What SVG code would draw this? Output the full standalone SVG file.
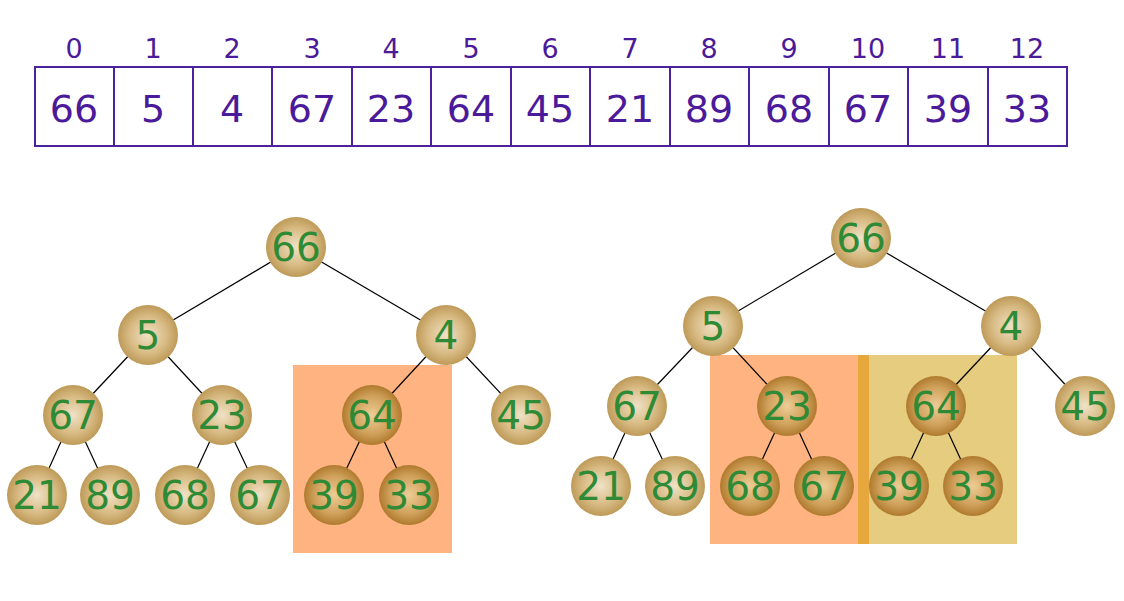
<svg xmlns="http://www.w3.org/2000/svg" width="1124" height="601" viewBox="0 0 1124 601">
<defs>
<radialGradient id="lt" cx="50%" cy="50%" r="50%">
<stop offset="0" stop-color="#EFE2C6"/>
<stop offset="0.6" stop-color="#D9BC86"/>
<stop offset="1" stop-color="#BE9A58"/>
</radialGradient>
<radialGradient id="dk" cx="50%" cy="50%" r="50%">
<stop offset="0" stop-color="#EDCD95"/>
<stop offset="0.65" stop-color="#CFA05A"/>
<stop offset="1" stop-color="#AF7A2E"/>
</radialGradient>
<style>
.cell{fill:#fff;stroke:#4B229C;stroke-width:2}
.idx{font-family:"DejaVu Sans",sans-serif;font-size:27px;fill:#4B1A9A;text-anchor:middle}
.val{font-family:"DejaVu Sans",sans-serif;font-size:38px;fill:#4B1A9A;text-anchor:middle}
.n circle.l{fill:url(#lt)}
.n circle.d{fill:url(#dk)}
.n text{font-family:"DejaVu Sans",sans-serif;font-size:39px;fill:#2E8A35;text-anchor:middle}
.e line{stroke:#000;stroke-width:1.2}
</style>
</defs>
<rect width="1124" height="601" fill="#fff"/>
<g id="array">
<rect class="cell" x="35" y="67" width="1032" height="79"/>
<g stroke="#4B229C" stroke-width="2">
<line x1="114" y1="67" x2="114" y2="146"/><line x1="193" y1="67" x2="193" y2="146"/><line x1="272" y1="67" x2="272" y2="146"/><line x1="352" y1="67" x2="352" y2="146"/><line x1="431" y1="67" x2="431" y2="146"/><line x1="511" y1="67" x2="511" y2="146"/><line x1="590" y1="67" x2="590" y2="146"/><line x1="670" y1="67" x2="670" y2="146"/><line x1="749" y1="67" x2="749" y2="146"/><line x1="829" y1="67" x2="829" y2="146"/><line x1="908" y1="67" x2="908" y2="146"/><line x1="988" y1="67" x2="988" y2="146"/>
</g>
<text class="idx" x="74" y="58">0</text><text class="idx" x="153" y="58">1</text><text class="idx" x="232" y="58">2</text><text class="idx" x="312" y="58">3</text><text class="idx" x="391" y="58">4</text><text class="idx" x="471" y="58">5</text><text class="idx" x="550" y="58">6</text><text class="idx" x="630" y="58">7</text><text class="idx" x="709" y="58">8</text><text class="idx" x="789" y="58">9</text><text class="idx" x="868" y="58">10</text><text class="idx" x="948" y="58">11</text><text class="idx" x="1027" y="58">12</text>
<text class="val" x="74" y="122">66</text><text class="val" x="153" y="122">5</text><text class="val" x="232" y="122">4</text><text class="val" x="312" y="122">67</text><text class="val" x="391" y="122">23</text><text class="val" x="471" y="122">64</text><text class="val" x="550" y="122">45</text><text class="val" x="630" y="122">21</text><text class="val" x="709" y="122">89</text><text class="val" x="789" y="122">68</text><text class="val" x="868" y="122">67</text><text class="val" x="948" y="122">39</text><text class="val" x="1027" y="122">33</text>
</g>
<g id="highlights">
<rect x="293" y="365" width="159" height="188" fill="#FFB380"/>
<rect x="710" y="355" width="149" height="189" fill="#FFB380"/>
<rect x="858" y="355" width="11" height="189" fill="#E6A83C"/>
<rect x="869" y="355" width="148" height="189" fill="#E5CC7F"/>
</g>
<g id="connectors" class="e">
<line x1="296" y1="247" x2="148" y2="335"/><line x1="296" y1="247" x2="446" y2="335"/>
<line x1="148" y1="335" x2="73" y2="415"/><line x1="148" y1="335" x2="222" y2="415"/>
<line x1="446" y1="335" x2="372" y2="415"/><line x1="446" y1="335" x2="521" y2="415"/>
<line x1="73" y1="415" x2="37" y2="495"/><line x1="73" y1="415" x2="110" y2="495"/>
<line x1="222" y1="415" x2="185" y2="495"/><line x1="222" y1="415" x2="260" y2="495"/>
<line x1="372" y1="415" x2="334" y2="495"/><line x1="372" y1="415" x2="409" y2="495"/>
<line x1="861" y1="238" x2="713" y2="326"/><line x1="861" y1="238" x2="1011" y2="326"/>
<line x1="713" y1="326" x2="637" y2="406"/><line x1="713" y1="326" x2="787" y2="406"/>
<line x1="1011" y1="326" x2="936" y2="406"/><line x1="1011" y1="326" x2="1085" y2="406"/>
<line x1="637" y1="406" x2="601" y2="486"/><line x1="637" y1="406" x2="675" y2="486"/>
<line x1="787" y1="406" x2="750" y2="486"/><line x1="787" y1="406" x2="824" y2="486"/>
<line x1="936" y1="406" x2="899" y2="486"/><line x1="936" y1="406" x2="973" y2="486"/>
</g>
<g id="L66" class="n"><circle class="l" cx="296" cy="247" r="30"/><text x="296" y="261">66</text></g>
<g id="L5" class="n"><circle class="l" cx="148" cy="335" r="30"/><text x="148" y="349">5</text></g>
<g id="L4" class="n"><circle class="l" cx="446" cy="335" r="30"/><text x="446" y="349">4</text></g>
<g id="L67a" class="n"><circle class="l" cx="73" cy="415" r="30"/><text x="73" y="429">67</text></g>
<g id="L23" class="n"><circle class="l" cx="222" cy="415" r="30"/><text x="222" y="429">23</text></g>
<g id="L64" class="n"><circle class="d" cx="372" cy="415" r="30"/><text x="372" y="429">64</text></g>
<g id="L45" class="n"><circle class="l" cx="521" cy="415" r="30"/><text x="521" y="429">45</text></g>
<g id="L21" class="n"><circle class="l" cx="37" cy="495" r="30"/><text x="37" y="509">21</text></g>
<g id="L89" class="n"><circle class="l" cx="110" cy="495" r="30"/><text x="110" y="509">89</text></g>
<g id="L68" class="n"><circle class="l" cx="185" cy="495" r="30"/><text x="185" y="509">68</text></g>
<g id="L67b" class="n"><circle class="l" cx="260" cy="495" r="30"/><text x="260" y="509">67</text></g>
<g id="L39" class="n"><circle class="d" cx="334" cy="495" r="30"/><text x="334" y="509">39</text></g>
<g id="L33" class="n"><circle class="d" cx="409" cy="495" r="30"/><text x="409" y="509">33</text></g>
<g id="R66" class="n"><circle class="l" cx="861" cy="238" r="30"/><text x="861" y="252">66</text></g>
<g id="R5" class="n"><circle class="l" cx="713" cy="326" r="30"/><text x="713" y="340">5</text></g>
<g id="R4" class="n"><circle class="l" cx="1011" cy="326" r="30"/><text x="1011" y="340">4</text></g>
<g id="R67a" class="n"><circle class="l" cx="637" cy="406" r="30"/><text x="637" y="420">67</text></g>
<g id="R23" class="n"><circle class="d" cx="787" cy="406" r="30"/><text x="787" y="420">23</text></g>
<g id="R64" class="n"><circle class="d" cx="936" cy="406" r="30"/><text x="936" y="420">64</text></g>
<g id="R45" class="n"><circle class="l" cx="1085" cy="406" r="30"/><text x="1085" y="420">45</text></g>
<g id="R21" class="n"><circle class="l" cx="601" cy="486" r="30"/><text x="601" y="500">21</text></g>
<g id="R89" class="n"><circle class="l" cx="675" cy="486" r="30"/><text x="675" y="500">89</text></g>
<g id="R68" class="n"><circle class="d" cx="750" cy="486" r="30"/><text x="750" y="500">68</text></g>
<g id="R67b" class="n"><circle class="d" cx="824" cy="486" r="30"/><text x="824" y="500">67</text></g>
<g id="R39" class="n"><circle class="d" cx="899" cy="486" r="30"/><text x="899" y="500">39</text></g>
<g id="R33" class="n"><circle class="d" cx="973" cy="486" r="30"/><text x="973" y="500">33</text></g>
</svg>
